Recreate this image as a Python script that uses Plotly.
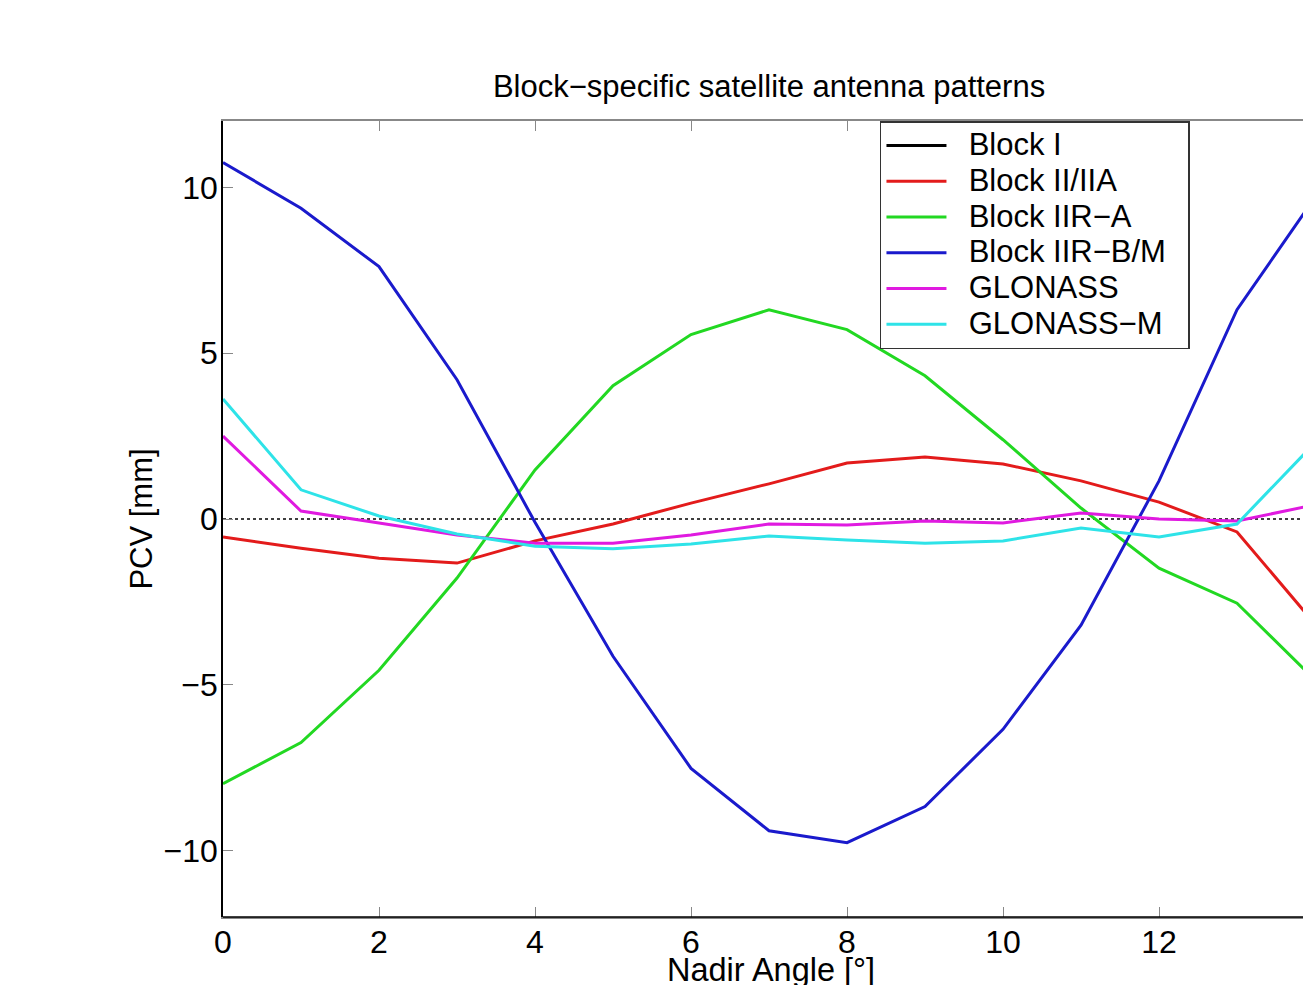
import plotly.graph_objects as go

nadir = list(range(15))
x_ticks = [0, 2, 4, 6, 8, 10, 12, 14]
y_ticks = [-10, -5, 0, 5, 10]
y_ticktext = ["\u221210", "\u22125", "0", "5", "10"]

block_i = [None] * 15
block_ii_iia = [-0.54, -0.88, -1.18, -1.33, -0.66, -0.15, 0.48, 1.06, 1.69, 1.87, 1.66, 1.15, 0.51, -0.39, -3.17]
block_iir_a = [-7.98, -6.74, -4.56, -1.78, 1.48, 4.02, 5.56, 6.31, 5.71, 4.32, 2.39, 0.33, -1.48, -2.54, -4.85]
block_iir_bm = [10.75, 9.37, 7.61, 4.2, -0.1, -4.14, -7.52, -9.4, -9.76, -8.67, -6.34, -3.2, 1.15, 6.31, 9.7]
glonass = [2.5, 0.24, -0.12, -0.48, -0.73, -0.73, -0.48, -0.15, -0.18, -0.06, -0.12, 0.18, 0.0, -0.06, 0.43]
glonass_m = [3.62, 0.88, 0.09, -0.45, -0.82, -0.9, -0.75, -0.51, -0.63, -0.73, -0.66, -0.27, -0.54, -0.15, 2.3]

series = [
    ("Block I", block_i, "#000000"),
    ("Block II/IIA", block_ii_iia, "#e31b1b"),
    ("Block IIR\u2212A", block_iir_a, "#22d822"),
    ("Block IIR\u2212B/M", block_iir_bm, "#1a1acc"),
    ("GLONASS", glonass, "#e01ae0"),
    ("GLONASS\u2212M", glonass_m, "#2ee3e8"),
]

FONT = "Liberation Sans, Arial, sans-serif"

fig = go.Figure()
for name, vals, col in series:
    fig.add_trace(go.Scatter(
        x=nadir, y=vals, mode="lines",
        name='<span style="font-size:31px">\u00a0\u00a0' + name + '\u00a0\u00a0</span>',
        line=dict(color=col, width=3)))

# dotted zero reference line
fig.add_shape(type="line", xref="paper", yref="y", x0=0, x1=1, y0=0, y1=0,
              line=dict(color="black", width=1.5, dash="dot"), layer="below")
# black bottom axis line over the grey mirrored frame
fig.add_shape(type="line", xref="paper", yref="paper", x0=0, x1=1, y0=0, y1=0,
              line=dict(color="black", width=1.5), layer="above")

# x-axis title (centred on the full axis, which continues past the page edge)
fig.add_annotation(text="Nadir Angle [\u00b0]", xref="paper", yref="paper",
                   x=0.5074, y=-0.0666, xanchor="center", yanchor="middle",
                   showarrow=False, font=dict(size=32.5))

fig.update_layout(
    width=1303, height=985,
    margin=dict(l=223, r=0, t=121, b=68),
    paper_bgcolor="white", plot_bgcolor="white",
    font=dict(family=FONT, size=31, color="black"),
    title=dict(text="Block\u2212specific satellite antenna patterns",
               x=0.5902, xanchor="center", y=0.9127, yanchor="middle",
               font=dict(size=31)),
    showlegend=True,
    legend=dict(x=0.6083, y=1, xanchor="left", yanchor="top",
                bgcolor="white", bordercolor="#333333", borderwidth=1.5,
                font=dict(size=25.2), itemwidth=60, tracegroupgap=0),
    xaxis=dict(range=[0, 13.846], tickvals=x_ticks, ticks="inside", ticklen=10,
               tickcolor="#888888", tickfont=dict(size=32),
               showline=True, linecolor="#888888", linewidth=1.5,
               mirror="allticks", showgrid=False, zeroline=False,
               ticklabelstandoff=-4, automargin=False),
    yaxis=dict(range=[-12, 12], tickvals=y_ticks, ticktext=y_ticktext,
               ticks="inside", ticklen=10, tickcolor="#888888",
               tickfont=dict(size=32), ticklabelstandoff=-3,
               showline=True, linecolor="black", linewidth=1.5,
               showgrid=False, zeroline=False,
               title=dict(text="PCV [mm]", standoff=2, font=dict(size=31)),
               automargin=False),
)

fig.write_html(
    "out.html",
    config={"displayModeBar": False},
    post_script="document.body.style.margin='0';document.body.style.overflow='hidden';",
)
